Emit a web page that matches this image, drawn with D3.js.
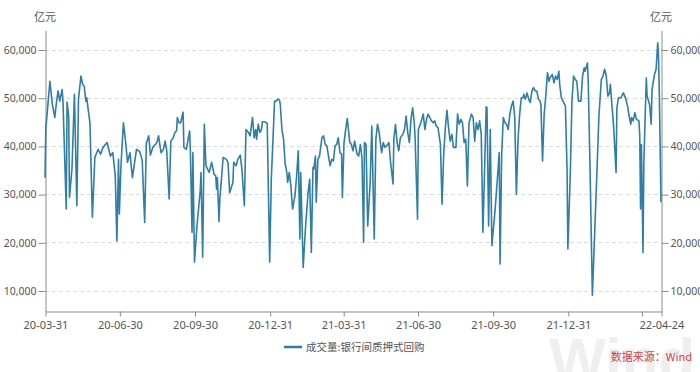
<!DOCTYPE html>
<html>
<head>
<meta charset="utf-8">
<script src="https://cdn.jsdelivr.net/npm/d3@7"></script>
<style>
  body { margin: 0; background: #fff; }
  svg { display: block; font-family: "Noto Sans", "Noto Sans CJK SC", sans-serif; }
</style>
</head>
<body>
<svg id="chart" width="700" height="372"></svg>
<script>
// 成交量:银行间质押式回购 (亿元)
const dates = [
  "2020-03-31","2020-04-01","2020-04-02","2020-04-06","2020-04-09","2020-04-12","2020-04-14","2020-04-16","2020-04-18","2020-04-21",
  "2020-04-22","2020-04-26","2020-04-27","2020-04-29","2020-04-30","2020-05-03","2020-05-06","2020-05-09","2020-05-11","2020-05-14",
  "2020-05-16","2020-05-18","2020-05-20","2020-05-21","2020-05-25","2020-05-28","2020-05-31","2020-06-04","2020-06-07","2020-06-10",
  "2020-06-15","2020-06-17","2020-06-19","2020-06-22","2020-06-25","2020-06-27","2020-06-29","2020-06-30","2020-07-02","2020-07-05",
  "2020-07-08","2020-07-10","2020-07-13","2020-07-16","2020-07-21","2020-07-25","2020-07-28","2020-07-31","2020-08-02","2020-08-05",
  "2020-08-07","2020-08-10","2020-08-13","2020-08-15","2020-08-17","2020-08-20","2020-08-23","2020-08-25","2020-08-27","2020-08-30",
  "2020-09-01","2020-09-04","2020-09-06","2020-09-08","2020-09-09","2020-09-11","2020-09-13","2020-09-16","2020-09-17","2020-09-20",
  "2020-09-24","2020-09-25","2020-09-27","2020-09-28","2020-09-30","2020-10-03","2020-10-07","2020-10-08","2020-10-10","2020-10-12",
  "2020-10-14","2020-10-16","2020-10-18","2020-10-21","2020-10-24","2020-10-26","2020-10-27","2020-10-28","2020-10-30","2020-10-31",
  "2020-11-02","2020-11-04","2020-11-08","2020-11-10","2020-11-12","2020-11-16","2020-11-17","2020-11-20","2020-11-22","2020-11-25",
  "2020-11-27","2020-11-30","2020-12-02","2020-12-05","2020-12-07","2020-12-10","2020-12-12","2020-12-14","2020-12-15","2020-12-17",
  "2020-12-19","2020-12-21","2020-12-22","2020-12-25","2020-12-28","2020-12-31","2021-01-02","2021-01-06","2021-01-08","2021-01-10",
  "2021-01-12","2021-01-13","2021-01-15","2021-01-17","2021-01-19","2021-01-21","2021-01-22","2021-01-24","2021-01-26","2021-01-28",
  "2021-01-31","2021-02-02","2021-02-04","2021-02-06","2021-02-07","2021-02-10","2021-02-13","2021-02-16","2021-02-18","2021-02-20",
  "2021-02-22","2021-02-23","2021-02-25","2021-02-26","2021-02-28","2021-03-02","2021-03-05","2021-03-07","2021-03-09","2021-03-11",
  "2021-03-13","2021-03-15","2021-03-17","2021-03-19","2021-03-21","2021-03-23","2021-03-25","2021-03-27","2021-03-29","2021-03-30",
  "2021-04-01","2021-04-03","2021-04-05","2021-04-08","2021-04-10","2021-04-12","2021-04-14","2021-04-17","2021-04-19","2021-04-21",
  "2021-04-23","2021-04-25","2021-04-26","2021-04-28","2021-04-30","2021-05-03","2021-05-05","2021-05-08","2021-05-10","2021-05-12",
  "2021-05-14","2021-05-17","2021-05-19","2021-05-21","2021-05-23","2021-05-26","2021-05-28","2021-05-31","2021-06-01","2021-06-03",
  "2021-06-05","2021-06-07","2021-06-09","2021-06-12","2021-06-14","2021-06-16","2021-06-18","2021-06-20","2021-06-22","2021-06-24",
  "2021-06-26","2021-06-27","2021-06-30","2021-07-01","2021-07-04","2021-07-07","2021-07-09","2021-07-11","2021-07-13","2021-07-15",
  "2021-07-17","2021-07-19","2021-07-21","2021-07-23","2021-07-25","2021-07-28","2021-07-30","2021-08-01","2021-08-03","2021-08-05",
  "2021-08-07","2021-08-09","2021-08-11","2021-08-13","2021-08-16","2021-08-18","2021-08-20","2021-08-22","2021-08-24","2021-08-26",
  "2021-08-28","2021-08-30","2021-09-01","2021-09-04","2021-09-06","2021-09-08","2021-09-10","2021-09-12","2021-09-14","2021-09-16",
  "2021-09-18","2021-09-20","2021-09-22","2021-09-23","2021-09-25","2021-09-27","2021-09-29","2021-10-03","2021-10-06","2021-10-08",
  "2021-10-09","2021-10-11","2021-10-13","2021-10-15","2021-10-17","2021-10-19","2021-10-21","2021-10-23","2021-10-25","2021-10-27",
  "2021-10-29","2021-10-31","2021-11-02","2021-11-04","2021-11-06","2021-11-07","2021-11-09","2021-11-11","2021-11-13","2021-11-15",
  "2021-11-17","2021-11-19","2021-11-21","2021-11-23","2021-11-25","2021-11-27","2021-11-28","2021-11-30","2021-12-02","2021-12-04",
  "2021-12-06","2021-12-08","2021-12-09","2021-12-12","2021-12-14","2021-12-16","2021-12-18","2021-12-20","2021-12-21","2021-12-23",
  "2021-12-25","2021-12-28","2021-12-30","2021-12-31","2022-01-03","2022-01-05","2022-01-07","2022-01-09","2022-01-11","2022-01-13",
  "2022-01-16","2022-01-18","2022-01-20","2022-01-21","2022-01-24","2022-01-25","2022-01-27","2022-01-30","2022-02-02","2022-02-05",
  "2022-02-07","2022-02-10","2022-02-12","2022-02-14","2022-02-16","2022-02-18","2022-02-20","2022-02-21","2022-02-23","2022-02-25",
  "2022-02-28","2022-03-01","2022-03-03","2022-03-06","2022-03-09","2022-03-12","2022-03-14","2022-03-16","2022-03-18","2022-03-19",
  "2022-03-21","2022-03-23","2022-03-25","2022-03-28","2022-03-29","2022-03-30","2022-03-31","2022-04-02","2022-04-03","2022-04-06",
  "2022-04-07","2022-04-10","2022-04-12","2022-04-13","2022-04-16","2022-04-18","2022-04-20","2022-04-21","2022-04-22","2022-04-24"
];

const volumes = [
  33400,43800,45500,53400,48600,45900,49000,51400,49300,51700,
  49300,26900,49100,46200,29300,35200,50700,27600,49700,54500,
  52800,52400,49300,50000,44800,25200,37600,39300,38300,39700,
  40700,39300,37900,38600,33800,20300,37200,25900,35900,44800,
  40300,36600,38600,33400,39300,38800,37000,24100,40500,42100,
  38100,39700,40300,40700,42100,38600,39300,41000,39000,29000,
  41000,41700,42800,43100,45900,44800,44800,47000,39700,39300,
  43100,38600,22100,38600,15900,23400,30700,34500,16900,44500,
  35900,35200,34500,36600,34100,33800,31000,33400,24300,29000,
  33100,37600,37200,36600,30300,32400,36600,35900,37200,38100,
  35200,27600,43400,42800,42100,45900,41700,43400,41400,44500,
  42800,43400,45000,45000,44700,15900,33100,49300,49300,49700,
  49500,48600,43400,41400,36200,34500,32400,34500,31700,26900,
  29700,33800,39000,20700,34500,14800,23400,30300,33100,17900,
  35500,35200,37900,28300,37200,37900,41700,42100,40300,40000,
  37900,35900,37200,36900,40000,40300,41700,38600,38300,29300,
  40700,43400,45700,40800,40300,39000,41000,38300,37900,40300,
  37600,20000,40700,40300,23400,32400,44100,20700,41400,44500,
  42800,38600,40700,39700,40000,40700,36600,32100,41400,44500,
  40700,39000,41700,42400,43400,46200,42800,40700,45500,47900,
  44800,41700,24800,43400,44800,46600,43400,45500,46600,45900,
  45200,44800,45200,44100,43800,40300,27900,38200,43700,47400,
  43700,41000,42400,39700,39700,46600,44500,45500,44800,40700,
  41400,31700,44800,46600,45900,41000,44800,43400,45200,42400,
  22100,34500,48100,47900,23400,43400,19300,26900,33800,38600,
  15500,38300,45900,44800,44500,43400,46600,48300,49300,45900,
  30000,41400,46600,50000,50000,50700,49700,51000,49700,49000,
  51400,52100,51400,51400,49700,49300,48600,36900,46600,50300,
  55200,53400,54100,54800,53100,54500,53800,55500,52800,50000,
  49300,48300,35200,18600,34500,49300,54500,53800,53400,49300,
  49300,54500,56200,55500,57200,52800,36600,9000,22800,36600,
  46200,53800,54500,55900,54500,50300,51000,52800,48300,44100,
  34500,47900,50000,50000,51000,49700,48300,46200,44500,45900,
  45200,46900,45500,45200,42100,26900,40300,17900,36600,54100,
  50300,48600,44500,51700,54800,55900,61400,58600,50300,28300
];

const yTicks = [10000, 20000, 30000, 40000, 50000, 60000];
const xTickDates = ["2020-03-31","2020-06-30","2020-09-30","2020-12-31","2021-03-31",
                    "2021-06-30","2021-09-30","2021-12-31","2022-03-31","2022-04-24"];
const hiddenTickLabels = ["2022-03-31"];
const unitLabel = "亿元";
const seriesName = "成交量:银行间质押式回购";
const sourceText = "数据来源：Wind";

const parseDate = d3.timeParse("%Y-%m-%d");
const fmtTick = d3.timeFormat("%y-%m-%d");
const fmtKey = d3.timeFormat("%Y-%m-%d");
const data = dates.map((d, i) => ({ date: parseDate(d), value: volumes[i] }));

const svg = d3.select("#chart");
const plot = { left: 45, right: 661, top: 30, bottom: 311 };
const lineColor = "#2f7ea6";
const textColor = "#555";

// watermark
svg.append("text")
  .attr("x", 549).attr("y", 380)
  .attr("font-family", "Liberation Sans, Arial, sans-serif")
  .attr("font-weight", "bold")
  .attr("font-size", 60)
  .attr("fill", "#efefef")
  .text("Wind");

const x = d3.scaleTime()
  .domain([parseDate("2020-03-31"), parseDate("2022-04-24")])
  .range([plot.left, plot.right]);

const y = d3.scaleLinear()
  .domain([5750, 64050])
  .range([plot.bottom, plot.top]);

// grid
svg.append("g")
  .selectAll("line")
  .data(yTicks)
  .join("line")
  .attr("x1", plot.left).attr("x2", plot.right)
  .attr("y1", d => Math.round(y(d)) + 0.5)
  .attr("y2", d => Math.round(y(d)) + 0.5)
  .attr("stroke", "#dcdcdc")
  .attr("stroke-dasharray", "4,3");

function styleAxis(g) {
  g.select(".domain").attr("stroke", "#8c8c8c");
  g.selectAll(".tick line").attr("stroke", "#8c8c8c");
  g.selectAll(".tick text").attr("fill", textColor).attr("font-size", 10.5)
    .attr("font-family", "Noto Sans, sans-serif");
}

const yLeft = svg.append("g")
  .attr("transform", `translate(${plot.left + 0.5},0.5)`)
  .call(d3.axisLeft(y).tickValues(yTicks).tickFormat(d3.format(",")).tickSize(7).tickSizeOuter(0).tickPadding(2));
styleAxis(yLeft);

const yRight = svg.append("g")
  .attr("transform", `translate(${plot.right + 0.5},0.5)`)
  .call(d3.axisRight(y).tickValues(yTicks).tickFormat(d3.format(",")).tickSize(7).tickSizeOuter(0).tickPadding(2));
styleAxis(yRight);

const xAxis = svg.append("g")
  .attr("transform", `translate(0.5,${plot.bottom + 0.5})`)
  .call(d3.axisBottom(x)
    .tickValues(xTickDates.map(parseDate))
    .tickFormat(fmtTick)
    .tickSize(5).tickSizeOuter(0).tickPadding(5));
styleAxis(xAxis);
xAxis.selectAll(".tick text").attr("font-size", 11);
// the 22-03-31 tick keeps its mark but has no label
xAxis.selectAll(".tick")
  .filter(d => hiddenTickLabels.includes(fmtKey(d)))
  .select("text").remove();

// units
[plot.left, plot.right].forEach(px => {
  svg.append("text")
    .attr("x", px).attr("y", 21)
    .attr("text-anchor", "middle")
    .attr("font-size", 11)
    .attr("fill", textColor)
    .attr("font-family", "Noto Sans CJK SC, sans-serif")
    .text(unitLabel);
});

// series line
const line = d3.line()
  .x(d => x(d.date))
  .y(d => y(d.value));

svg.append("path")
  .datum(data)
  .attr("fill", "none")
  .attr("stroke", lineColor)
  .attr("stroke-width", 1.6)
  .attr("stroke-linejoin", "round")
  .attr("d", line);

// legend
svg.append("line")
  .attr("x1", 284).attr("x2", 302)
  .attr("y1", 347).attr("y2", 347)
  .attr("stroke", lineColor)
  .attr("stroke-width", 2.5);

svg.append("text")
  .attr("x", 306).attr("y", 351)
  .attr("font-size", 10.5)
  .attr("fill", textColor)
  .attr("font-family", "Noto Sans CJK SC, sans-serif")
  .text(seriesName);

// source
svg.append("text")
  .attr("x", 692).attr("y", 361)
  .attr("text-anchor", "end")
  .attr("font-size", 11)
  .attr("fill", "#d9403a")
  .attr("font-family", "Noto Sans CJK SC, sans-serif")
  .text(sourceText);
</script>
</body>
</html>
